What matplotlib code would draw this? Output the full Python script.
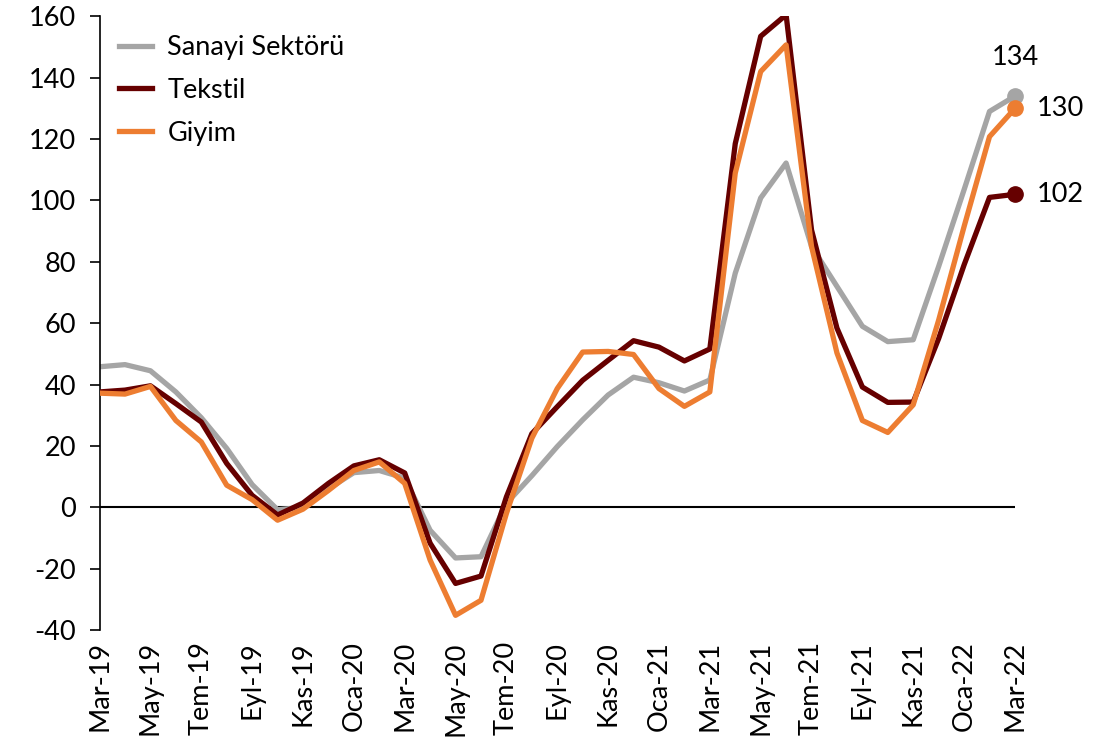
import numpy as np
import matplotlib.pyplot as plt

plt.rcParams['font.family'] = ['Lato', 'DejaVu Sans']
plt.rcParams['axes.unicode_minus'] = False

months = ["Mar", "Nis", "May", "Haz", "Tem", "Ağu", "Eyl", "Eki", "Kas", "Ara", "Oca", "Şub"]
labels = []
for i in range(37):
    y = 19 + (2 + i) // 12
    labels.append("{}-{}".format(months[i % 12], y))

sanayi = [45.8, 46.5, 44.5, 37.6, 29.2, 19.2, 7.4, -0.8, 0.0, 6.0, 11.3, 12.0, 9.5,
          -7.5, -16.5, -16.1, 1.3, 10.3, 19.8, 28.5, 36.6, 42.4, 40.6, 37.9, 41.5,
          76.3, 100.8, 112.2, 85.0, 72.0, 59.0, 54.0, 54.6, 78.5, 103.5, 129.0, 134.0]
tekstil = [37.6, 38.2, 39.6, 33.8, 27.8, 14.3, 3.9, -2.5, 1.4, 7.8, 13.5, 15.5, 11.2,
           -11.7, -24.8, -22.4, 3.4, 24.0, 32.8, 41.4, 47.9, 54.3, 52.2, 47.7, 51.6,
           118.5, 153.5, 160.5, 90.4, 58.4, 39.2, 34.2, 34.3, 55.0, 79.0, 101.0, 102.0]
giyim = [37.2, 36.9, 39.4, 28.3, 21.3, 7.2, 2.5, -4.2, -0.6, 5.5, 12.0, 14.8, 7.8,
         -17.2, -35.2, -30.3, -2.0, 22.5, 38.7, 50.6, 50.8, 49.8, 38.7, 32.9, 37.6,
         108.9, 142.0, 150.7, 85.0, 50.3, 28.3, 24.4, 33.4, 61.0, 91.5, 120.8, 130.0]

c_gray = "#A5A5A5"
c_dark = "#660000"
c_orange = "#ED7D31"
fs = 19.5

x = np.arange(len(sanayi))

fig = plt.figure(figsize=(11.19, 7.43), dpi=100)
ax = fig.add_axes([0.089, 0.152, 0.818, 0.826])

ax.axhline(0, color="black", lw=1.5, zorder=1)
ax.plot(x, sanayi, color=c_gray, lw=3.8, label="Sanayi Sektörü", zorder=2)
ax.plot(x, tekstil, color=c_dark, lw=3.8, label="Tekstil", zorder=3)
ax.plot(x, giyim, color=c_orange, lw=3.8, label="Giyim", zorder=4)

ax.plot(x[-1], sanayi[-1], "o", color=c_gray, ms=11, zorder=5, clip_on=False)
ax.plot(x[-1], giyim[-1], "o", color=c_orange, ms=11, zorder=6, clip_on=False)
ax.plot(x[-1], tekstil[-1], "o", color=c_dark, ms=11, zorder=6, clip_on=False)

ax.annotate("{:.0f}".format(sanayi[-1]), (x[-1], sanayi[-1]), xytext=(0, 28),
            textcoords="offset points", ha="center", va="center", fontsize=fs)
ax.annotate("{:.0f}".format(giyim[-1]), (x[-1], giyim[-1]), xytext=(16, 0),
            textcoords="offset points", ha="left", va="center", fontsize=fs)
ax.annotate("{:.0f}".format(tekstil[-1]), (x[-1], tekstil[-1]), xytext=(16, 0),
            textcoords="offset points", ha="left", va="center", fontsize=fs)

ax.set_xlim(0, 36)
ax.set_ylim(-40, 160)
ax.set_yticks(np.arange(-40, 161, 20))
ax.set_xticks(x[::2])
ax.set_xticklabels(labels[::2], rotation=90, fontsize=fs)
ax.tick_params(axis="y", labelsize=fs, direction="out", length=7, width=1.2, pad=10)
ax.tick_params(axis="x", length=0, pad=8)

for s in ["top", "right", "bottom"]:
    ax.spines[s].set_visible(False)
ax.spines["left"].set_linewidth(1.2)

ax.legend(loc="upper left", bbox_to_anchor=(0.0, 1.0), frameon=False, fontsize=fs,
          handlelength=1.25, handletextpad=0.55, labelspacing=0.65, borderaxespad=0.3)

fig.savefig("out.png", dpi=100)
